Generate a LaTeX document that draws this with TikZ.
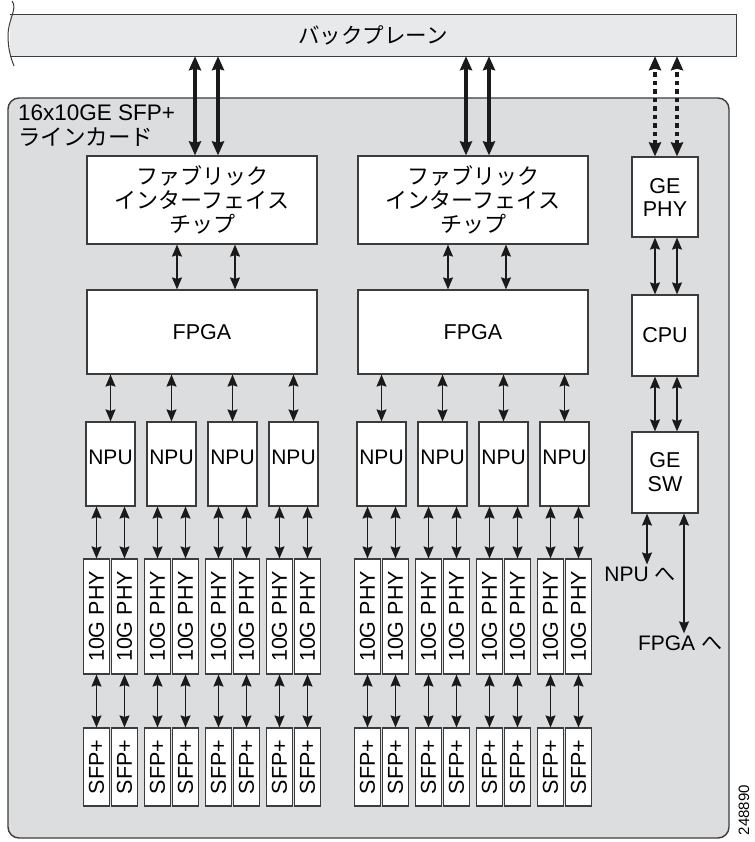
\documentclass[tikz,border=0pt]{standalone}
\usepackage{fontspec}
\setmainfont{Liberation Sans}
\newfontfamily\jpfont{Noto Sans CJK JP}
\usetikzlibrary{arrows.meta,positioning,calc}
\definecolor{cCard}{HTML}{DCDDDF}
\definecolor{cPlane}{HTML}{E8E9EA}
\definecolor{cEdge}{HTML}{3C3C3C}
\definecolor{cArr}{HTML}{1A1A1A}
\tikzset{
  blk/.style={draw=cEdge,line width=1.2pt,fill=white,inner sep=0pt,align=center,
              font=\fontsize{21.5}{24}\selectfont},
  npubox/.style={blk,minimum width=49pt,minimum height=84pt,text depth=14pt,font=\fontsize{21}{24}\selectfont},
  phybox/.style={blk,minimum width=26pt,minimum height=115pt},
  sfpbox/.style={blk,minimum width=26pt,minimum height=78pt},
  lbl/.style={inner sep=2pt,font=\fontsize{21}{24}\selectfont},
  arr/.style={{Stealth[length=12pt,width=10pt,inset=1.5pt]}-{Stealth[length=12pt,width=10pt,inset=1.5pt]},
              line width=1.3pt,cArr},
  fatarr/.style={{Stealth[length=14pt,width=12pt,inset=1.5pt]}-{Stealth[length=14pt,width=12pt,inset=1.5pt]},
              line width=3.6pt,cArr},
  dotarr/.style={fatarr,dash pattern=on 4.5pt off 4pt},
}
\begin{document}
\begin{tikzpicture}[x=1pt,y=-1pt]
  \useasboundingbox (0,0) rectangle (754,842);
  % backplane
  \fill[cPlane] (10,15) rectangle (736,56);
  \node[inner sep=0pt,minimum width=726pt,minimum height=41pt,
        font=\fontsize{21.5}{24}\selectfont\jpfont] (bp) at (373,35.5) {バックプレーン};
  \draw[cEdge,line width=1.2pt] (bp.north west) -- (bp.north east) -- (bp.south east) -- (bp.south west);
  \draw[cEdge,line width=1pt] (12,1) .. controls (18,8) and (8,20) .. (8,35) .. controls (8,50) and (11,58) .. (14,66);
  % line card
  \draw[cEdge,line width=1.4pt,fill=cCard,rounded corners=11pt] (8,98) rectangle (729,838);
  \node[anchor=north west,align=left,inner sep=0pt,font=\fontsize{22.5}{25}\selectfont] (card) at (18,105)
       {16x10GE SFP+\\{\jpfont ラインカード}};
  \foreach \g/\x in {1/202,2/473}{
    \node[blk,minimum width=230pt,minimum height=88pt,font=\fontsize{22}{24}\selectfont\jpfont] (fab\g) at (\x,200)
         {ファブリック\\インターフェイス\\チップ};
    \node[blk,minimum width=230pt,minimum height=84pt] (fpga\g) at (\x,332) {FPGA};
    \foreach \dx in {-7,16}
      \draw[fatarr] ([xshift=\dx pt]fab\g.north) -- ([xshift=\dx pt]fab\g.north |- bp.south);
    \foreach \dx in {-25,33}
      \draw[arr] ([xshift=\dx pt]fab\g.south) -- ([xshift=\dx pt]fpga\g.north);
  }
  % NPU, 10G PHY, SFP+
  \foreach \g in {1,2}{
    \foreach \k in {1,...,4}{
      \pgfmathtruncatemacro\n{4*(\g-1)+\k}
      \pgfmathsetmacro\cx{49.5+271*(\g-1)+61*\k}
      \node[npubox] (npu\n) at (\cx,464) {NPU};
      \draw[arr] (fpga\g.south -| npu\n.north) -- (npu\n.north);
      \foreach \s/\dx in {1/-14,2/14}{
        \pgfmathtruncatemacro\m{2*\n-2+\s}
        \node[phybox] (phy\m) at (\cx+\dx,616.5) {\rotatebox{90}{10G PHY}};
        \node[sfpbox] (sfp\m) at (\cx+\dx,767) {\rotatebox{90}{SFP+}};
        \draw[arr] (npu\n.south -| phy\m.north) -- (phy\m.north);
        \draw[arr] (phy\m.south) -- (sfp\m.north);
      }
    }
  }
  % management path
  \node[blk,minimum width=66pt,minimum height=80pt,font=\fontsize{21.5}{23}\selectfont] (gephy) at (665,197) {GE\\PHY};
  \node[blk,minimum width=66pt,minimum height=81pt] (cpu) at (665,335.5) {CPU};
  \node[blk,minimum width=66pt,minimum height=81pt] (gesw) at (665,472.5) {GE\\SW};
  \node[lbl] (tonpu) at (640,574) {NPU {\jpfont へ}};
  \node[lbl] (tofpga) at (680,643) {FPGA {\jpfont へ}};
  \foreach \dx in {-10,12}{
    \draw[dotarr] ([xshift=\dx pt]gephy.north) -- ([xshift=\dx pt]gephy.north |- bp.south);
    \draw[arr] ([xshift=\dx pt]gephy.south) -- ([xshift=\dx pt]cpu.north);
    \draw[arr] ([xshift=\dx pt]cpu.south) -- ([xshift=\dx pt]gesw.north);
  }
  \draw[arr] ([xshift=-18pt]gesw.south) -- ([xshift=-18pt]gesw.south |- tonpu.north);
  \draw[arr] ([xshift=19pt]gesw.south) -- ([xshift=19pt]gesw.south |- tofpga.north);
  \node[rotate=90,inner sep=0pt,font=\fontsize{15}{15}\selectfont] (fignum) at (744,810) {248890};
\end{tikzpicture}
\end{document}
